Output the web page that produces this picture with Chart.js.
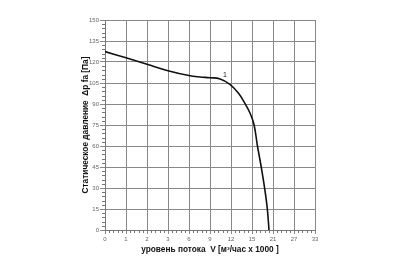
<!DOCTYPE html>
<html>
<head>
<meta charset="utf-8">
<script src="https://cdn.jsdelivr.net/npm/chart.js@4"></script>
<style>
  html, body { margin: 0; padding: 0; background: #fff; }
  #wrap { width: 410px; height: 256px; }
</style>
</head>
<body>
<div id="wrap"><canvas id="fan-chart"></canvas></div>
<script>
// x tick labels as printed under each grid column (grid is evenly spaced)
const flowLabels = ['0', '1', '2', '3', '6', '9', '12', '15', '21', '27', '33'];
// curve points: x in grid-column units, y in Pa
const curveX = [0, 1, 2, 3, 4, 4.52, 5, 5.48, 5.95, 6.35, 6.66, 6.92, 7.1, 7.26, 7.44, 7.6, 7.73, 7.81];
const curveY = [127.4, 123, 118.4, 113.8, 110.3, 109.3, 108.8, 107.9, 104.1, 97.8, 90.5, 83, 75, 60, 45, 30, 15, 0];
const curveName = '1';
const curveNamePos = { x: 5.71, y: 110.7 };

const points = curveX.map((x, i) => ({ x: x, y: curveY[i] }));

const minorTicks = {
    id: 'minorTicks',
    afterDraw(chart) {
        const ctx = chart.ctx;
        const xs = chart.scales.x;
        const ys = chart.scales.y;
        ctx.save();
        ctx.strokeStyle = '#777';
        ctx.lineWidth = 1;
        ctx.beginPath();
        for (let v = 0; v <= 150; v += 3) {
            if (v % 15 === 0) continue;
            const py = Math.round(ys.getPixelForValue(v)) + 0.5;
            ctx.moveTo(xs.left - 3, py);
            ctx.lineTo(xs.left, py);
        }
        for (let i = 0; i <= 50; i++) {
            if (i % 5 === 0) continue;
            const px = Math.round(xs.getPixelForValue(i / 5)) + 0.5;
            ctx.moveTo(px, ys.bottom);
            ctx.lineTo(px, ys.bottom + 3);
        }
        ctx.stroke();

        // curve number
        ctx.fillStyle = '#222';
        ctx.font = '7px "Liberation Sans", Arial, sans-serif';
        ctx.textAlign = 'center';
        ctx.textBaseline = 'middle';
        ctx.fillText(curveName, xs.getPixelForValue(curveNamePos.x), ys.getPixelForValue(curveNamePos.y));
        ctx.restore();
    }
};

new Chart(document.getElementById('fan-chart'), {
    type: 'scatter',
    data: {
        datasets: [{
            label: curveName,
            data: points,
            showLine: true,
            borderColor: '#111',
            borderWidth: 1.6,
            pointRadius: 0,
            tension: 0.4,
            fill: false
        }]
    },
    options: {
        responsive: true,
        maintainAspectRatio: false,
        animation: false,
        layout: { padding: { left: 81, right: 95, top: 20, bottom: 0 } },
        plugins: {
            legend: { display: false },
            tooltip: { enabled: false }
        },
        scales: {
            x: {
                type: 'linear',
                min: 0,
                max: 10,
                afterFit(scale) { scale.height = 26; },
                ticks: {
                    stepSize: 1,
                    color: '#666',
                    padding: 2,
                    font: { family: '"Liberation Sans", Arial, sans-serif', size: 6 },
                    callback: (v) => flowLabels[v]
                },
                grid: { color: '#888', lineWidth: 1, tickLength: 4, drawTicks: true },
                border: { color: '#777' },
                title: {
                    display: true,
                    text: 'уровень потока  V [м³/час x 1000 ]',
                    color: '#111',
                    padding: { top: 0, bottom: 1 },
                    font: { family: '"Liberation Sans", Arial, sans-serif', size: 8.3, weight: 'bold' }
                }
            },
            y: {
                min: 0,
                max: 150,
                afterFit(scale) { scale.width = 24; },
                ticks: {
                    stepSize: 15,
                    color: '#666',
                    padding: 1,
                    font: { family: '"Liberation Sans", Arial, sans-serif', size: 6 }
                },
                grid: { color: '#888', lineWidth: 1, tickLength: 5 },
                border: { color: '#777' },
                title: {
                    display: true,
                    text: 'Статическое давление  Δp fa [Па]',
                    color: '#111',
                    padding: { top: 0, bottom: 0 },
                    font: { family: '"Liberation Sans", Arial, sans-serif', size: 8.3, weight: 'bold' }
                }
            }
        }
    },
    plugins: [minorTicks]
});
</script>
</body>
</html>
